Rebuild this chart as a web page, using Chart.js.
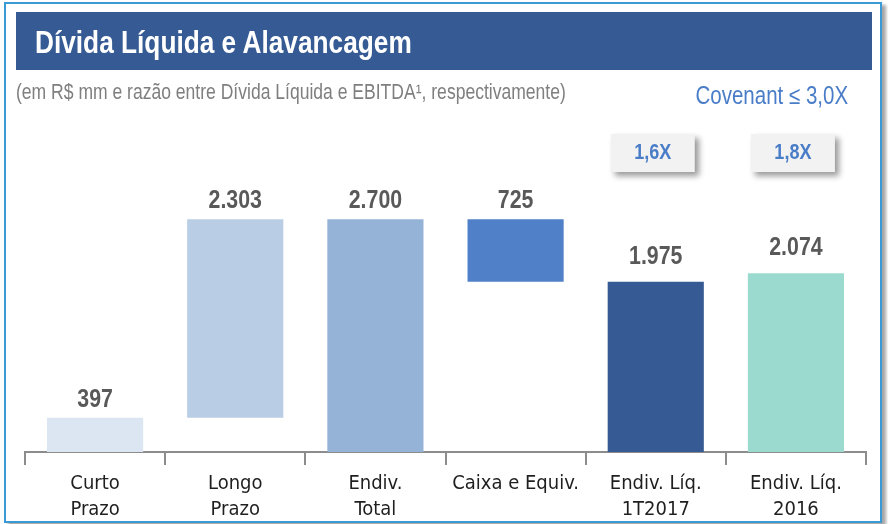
<!DOCTYPE html>
<html lang="pt">
<head>
<meta charset="UTF-8">
<title>Dívida Líquida e Alavancagem</title>
<style>
    body {
        margin: 0;
        background: #ffffff;
        font-family: 'Liberation Sans', Arial, sans-serif;
    }
    #wrap {
        position: relative;
        width: 888px;
        height: 524px;
        overflow: hidden;
    }
    .frame {
        position: absolute;
        left: 4px;
        top: 2px;
        width: 878px;
        height: 521px;
        box-sizing: border-box;
        border: 2px solid #3a9ad6;
        box-shadow: 4px 3px 3px rgba(0, 0, 0, 0.35);
        background: #ffffff;
    }
    .title-bar {
        position: absolute;
        left: 16px;
        top: 12px;
        width: 856px;
        height: 58px;
        background: #355a94;
    }
    /* texto "narrow": Liberation Sans comprimida a 82% */
    .narrow {
        position: absolute;
        white-space: nowrap;
        transform: scaleX(0.82);
        transform-origin: left center;
    }
    .title {
        left: 35px;
        top: 24px;
        font-size: 32px;
        font-weight: bold;
        color: #ffffff;
    }
    .subtitle {
        left: 16px;
        top: 80px;
        font-size: 21.4px;
        color: #7f7f7f;
    }
    .covenant {
        right: 40px;
        top: 81px;
        font-size: 25px;
        color: #4a7dc8;
        transform-origin: right center;
    }
    #chart {
        position: absolute;
        left: 0;
        top: 0;
    }
</style>
</head>
<body>
<div id="wrap">
    <div class="frame"></div>
    <div class="title-bar"></div>
    <canvas id="chart" width="888" height="524"></canvas>
    <div class="narrow title">Dívida Líquida e Alavancagem</div>
    <div class="narrow subtitle">(em R$ mm e razão entre Dívida Líquida e EBITDA¹, respectivamente)</div>
    <div class="narrow covenant">Covenant ≤ 3,0X</div>
</div>
<script src="https://cdn.jsdelivr.net/npm/chart.js"></script>
<script>
    // dados (R$ mm)
    const categories = [
        ['Curto', 'Prazo'],
        ['Longo', 'Prazo'],
        ['Endiv.', 'Total'],
        ['Caixa e Equiv.'],
        ['Endiv. Líq.', '1T2017'],
        ['Endiv. Líq.', '2016']
    ];
    const values = [397, 2303, 2700, 725, 1975, 2074];
    const bases = [0, 397, 0, 1975, 0, 0];
    const leverage = [null, null, null, null, 1.6, 1.8];
    const barColors = ['#dce6f2', '#b9cde5', '#95b3d7', '#4f80c8', '#355a94', '#9bdbcf'];

    const condensed = "'DejaVu Sans Condensed', sans-serif";
    const arial = "'Liberation Sans', Arial, sans-serif";

    function fmt(v) {
        return String(v).replace(/\B(?=(\d{3})+(?!\d))/g, '.');
    }

    // texto comprimido horizontalmente (imita Arial Narrow)
    function narrowText(ctx, text, x, y) {
        ctx.save();
        ctx.translate(x, y);
        ctx.scale(0.82, 1);
        ctx.fillText(text, 0, 0);
        ctx.restore();
    }

    // rótulos de valor e caixas de alavancagem
    const labelPlugin = {
        id: 'labels',
        afterDatasetsDraw(chart) {
            const ctx = chart.ctx;
            const meta = chart.getDatasetMeta(0);
            ctx.save();
            ctx.textAlign = 'center';
            ctx.textBaseline = 'middle';
            meta.data.forEach((bar, i) => {
                const top = Math.min(bar.y, bar.base);
                const gap = leverage[i] !== null ? 25 : 18;
                ctx.font = 'bold 26px ' + arial;
                ctx.fillStyle = '#595959';
                narrowText(ctx, fmt(values[i]), bar.x, top - gap);

                if (leverage[i] !== null) {
                    const bw = 84, bh = 38;
                    const cy = chart.chartArea.top + 20;
                    ctx.save();
                    ctx.shadowColor = 'rgba(0, 0, 0, 0.4)';
                    ctx.shadowBlur = 6;
                    ctx.shadowOffsetX = 4;
                    ctx.shadowOffsetY = 4;
                    ctx.fillStyle = '#f2f2f2';
                    ctx.fillRect(bar.x - bw / 2 - 3, cy - bh / 2, bw, bh);
                    ctx.restore();
                    ctx.font = 'bold 22px ' + arial;
                    ctx.fillStyle = '#4a7dc8';
                    narrowText(ctx, leverage[i].toFixed(1).replace('.', ',') + 'X', bar.x - 3, cy);
                }
            });
            ctx.restore();
        }
    };

    new Chart(document.getElementById('chart').getContext('2d'), {
        type: 'bar',
        data: {
            labels: categories,
            datasets: [{
                data: bases.map((b, i) => [b, b + values[i]]),
                backgroundColor: barColors,
                borderWidth: 0,
                barPercentage: 0.686,
                categoryPercentage: 1
            }]
        },
        options: {
            responsive: false,
            animation: false,
            layout: { padding: { left: 25, right: 22, top: 133, bottom: 0 } },
            plugins: {
                legend: { display: false },
                tooltip: { enabled: false }
            },
            scales: {
                x: {
                    afterFit(scale) { scale.height = 72; },
                    grid: {
                        display: true,
                        drawOnChartArea: false,
                        drawTicks: true,
                        tickLength: 13,
                        color: '#8c8c8c',
                        lineWidth: 2,
                        offset: true
                    },
                    border: { display: true, color: '#8c8c8c', width: 2 },
                    ticks: {
                        font: { family: condensed, size: 20, lineHeight: 1.3 },
                        color: '#1f1f1f',
                        padding: 6,
                        maxRotation: 0,
                        autoSkip: false
                    }
                },
                y: {
                    display: false,
                    min: 0,
                    max: 3700
                }
            }
        },
        plugins: [labelPlugin]
    });
</script>
</body>
</html>
